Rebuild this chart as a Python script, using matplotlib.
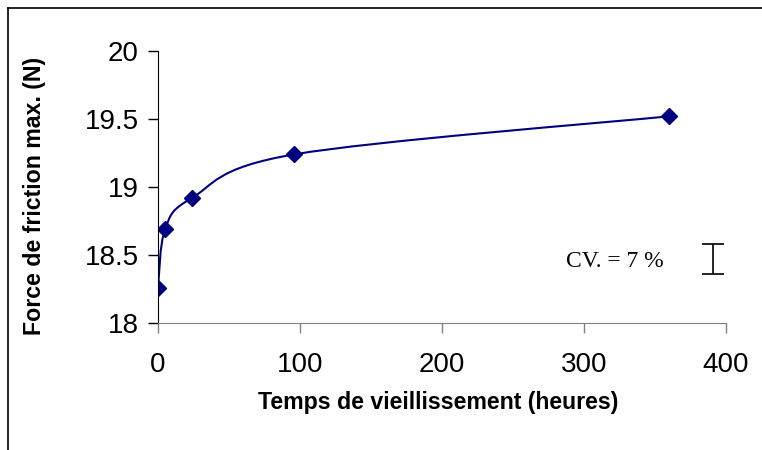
import numpy as np
import matplotlib.pyplot as plt
from matplotlib.path import Path
from matplotlib.patches import PathPatch
from matplotlib.lines import Line2D

# aging time (hours) vs max friction force (N)
hours = [0, 5, 24, 96, 360]
force = [18.26, 18.69, 18.92, 19.24, 19.52]
xticks = [0, 100, 200, 300, 400]
yticks = [18, 18.5, 19, 19.5, 20]
ytick_labels = ["18", "18.5", "19", "19.5", "20"]
cv_text = "CV. = 7 %"
cv_x = 391
cv_y = 18.47
cv_err = 0.11

navy = "#000080"
plt.rcParams["font.family"] = ["Liberation Sans", "DejaVu Sans"]

fig = plt.figure(figsize=(7.62, 4.5), dpi=100)
ax = fig.add_axes([158 / 762, 1 - 323 / 450, (726 - 158) / 762, (323 - 51) / 450])

# smoothed line like a spreadsheet "smooth line" (Catmull-Rom as bezier)
pts = np.column_stack([hours, force])
ext = np.vstack([pts[0], pts, pts[-1]])
verts = [tuple(pts[0])]
codes = [Path.MOVETO]
for i in range(len(pts) - 1):
    p0, p1, p2, p3 = ext[i], ext[i + 1], ext[i + 2], ext[i + 3]
    c1 = p1 + (p2 - p0) / 6
    c2 = p2 - (p3 - p1) / 6
    verts += [tuple(c1), tuple(c2), tuple(p2)]
    codes += [Path.CURVE4] * 3
ax.add_patch(PathPatch(Path(verts, codes), facecolor="none", edgecolor=navy, lw=1.5))
ax.plot(hours, force, linestyle="none", marker="D", markersize=8, color=navy)

ax.set_xlim(0, 400)
ax.set_ylim(18, 20)
ax.set_xticks(xticks)
ax.set_yticks(yticks)
ax.set_yticklabels(ytick_labels)
ax.tick_params(axis="both", labelsize=20, direction="out", length=7, width=1)
ax.tick_params(axis="x", colors="#808080", labelcolor="black", pad=14)
ax.tick_params(axis="y", pad=7)
for s in ["top", "right"]:
    ax.spines[s].set_visible(False)
ax.spines["bottom"].set_color("#808080")
ax.spines["left"].set_color("black")
ax.patch.set_alpha(0)

# CV error bar annotation
ax.errorbar([cv_x], [cv_y], yerr=[cv_err], fmt="none", ecolor="black",
            elinewidth=1.2, capsize=8, capthick=1.2, clip_on=False)
ax.text(287, 18.414, cv_text, fontsize=17, family=["Liberation Serif", "DejaVu Serif"],
        va="baseline", ha="left")

fig.text(438 / 762, 1 - 403 / 450, "Temps de vieillissement (heures)",
         fontsize=16.7, fontweight="bold", ha="center", va="center")
fig.text(35 / 762, 1 - 196 / 450, "Force de friction max. (N)", rotation=90,
         fontsize=16.7, fontweight="bold", ha="center", va="center")

# outer frame (left and top edges visible)
fig.add_artist(Line2D([8 / 762, 8 / 762], [0, 1 - 8 / 450], color="black", lw=1.2,
                      transform=fig.transFigure))
fig.add_artist(Line2D([8 / 762, 1], [1 - 8 / 450, 1 - 8 / 450], color="black", lw=1.2,
                      transform=fig.transFigure))

fig.savefig("out.png", dpi=100)
